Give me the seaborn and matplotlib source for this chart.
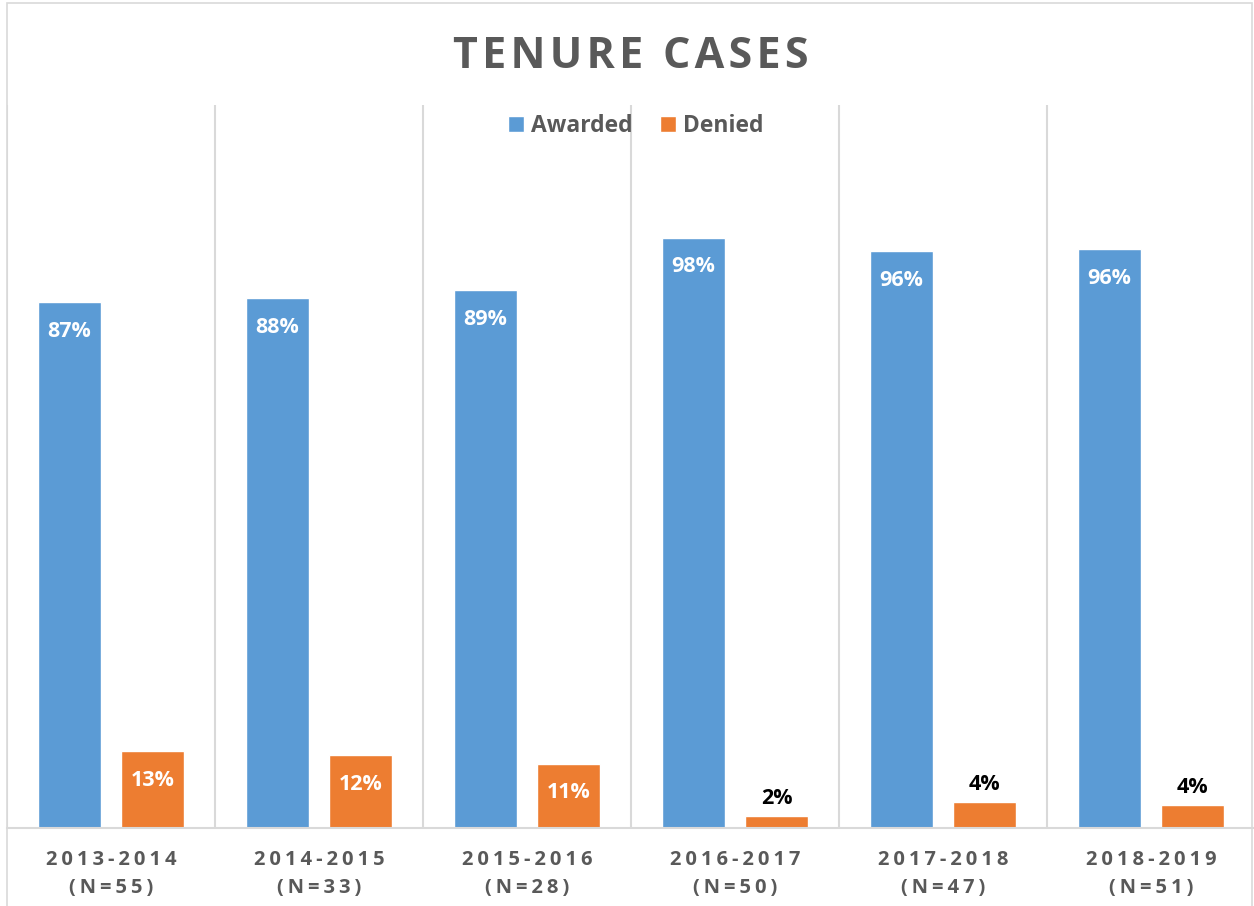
import pandas as pd
import matplotlib.pyplot as plt
import seaborn as sns
from matplotlib.patches import Rectangle

years = ['2013-2014', '2014-2015', '2015-2016', '2016-2017', '2017-2018', '2018-2019']
n_cases = [55, 33, 28, 50, 47, 51]
awarded = [87.3, 87.9, 89.3, 98.0, 95.7, 96.1]
denied = [12.7, 12.1, 10.7, 2.0, 4.3, 3.9]
series = ['Awarded', 'Denied']
colors = ['#5B9BD5', '#ED7D31']

df = pd.DataFrame({
    'year': years * 2,
    'status': ['Awarded'] * len(years) + ['Denied'] * len(years),
    'pct': awarded + denied,
})

sns.set_style('white')
plt.rcParams['font.family'] = ['Open Sans', 'DejaVu Sans']
grey = '#595959'


def spaced(s, sp='\u2009'):
    return sp.join(list(s))


fig = plt.figure(figsize=(12.54, 9.06), dpi=100)
ax = fig.add_axes([7 / 1254, 1 - 828 / 906, 1248 / 1254, (828 - 105) / 906])

sns.barplot(data=df, x='year', y='pct', hue='status', palette=colors,
            width=0.8, gap=0.24, saturation=1, ax=ax)

ax.set_ylim(0, 120)
ax.set_xlim(-0.5, 5.5)
ax.set_yticks([])
ax.set_xlabel('')
ax.set_ylabel('')

# category separators
ax.set_xticks([i - 0.5 for i in range(len(years) + 1)], minor=True)
ax.grid(which='minor', axis='x', color='#D9D9D9', linewidth=1.5)
ax.tick_params(which='both', length=0)
for s in ['top', 'right', 'left']:
    ax.spines[s].set_visible(False)
ax.spines['bottom'].set_color('#D9D9D9')
ax.spines['bottom'].set_linewidth(1.5)

ticklabels = [spaced(y) + '\n' + spaced('(N=%d)' % n) for y, n in zip(years, n_cases)]
ax.set_xticks(range(len(years)))
ax.set_xticklabels(ticklabels, fontsize=14.5, fontweight='bold', color=grey, linespacing=1.55)
ax.tick_params(axis='x', which='major', pad=16)

# data labels
for cont in ax.containers:
    for bar in cont:
        h = bar.get_height()
        x = bar.get_x() + bar.get_width() / 2
        txt = '%d%%' % round(h)
        if h > 8:
            ax.annotate(txt, (x, h), xytext=(0, -21), textcoords='offset points',
                        ha='center', va='center', color='white', fontsize=15.5, fontweight='bold')
        else:
            ax.annotate(txt, (x, h), xytext=(0, 12.5), textcoords='offset points',
                        ha='center', va='center', color='black', fontsize=15.5, fontweight='bold')

handles, labels = ax.get_legend_handles_labels()
ax.legend(handles, labels, loc='center', bbox_to_anchor=(0.507, 1 - 126 / 906),
          bbox_transform=fig.transFigure, ncol=2, frameon=False,
          handlelength=0.7, handleheight=0.7, handletextpad=0.3, columnspacing=1.2,
          prop={'size': 16.5, 'weight': 'bold'}, labelcolor=grey)

fig.text(0.503, 1 - 56 / 906, spaced('TENURE', '\u200a') + ' \u2009' + spaced('CASES', '\u200a'),
         ha='center', va='center', fontsize=31, fontweight='bold', color=grey)

fig.patches.append(Rectangle((7 / 1254, -0.01), 1245 / 1254, 1 - 3 / 906 + 0.01,
                             transform=fig.transFigure, fill=False,
                             edgecolor='#D9D9D9', linewidth=1.2))

plt.savefig('out.png', dpi=100)
